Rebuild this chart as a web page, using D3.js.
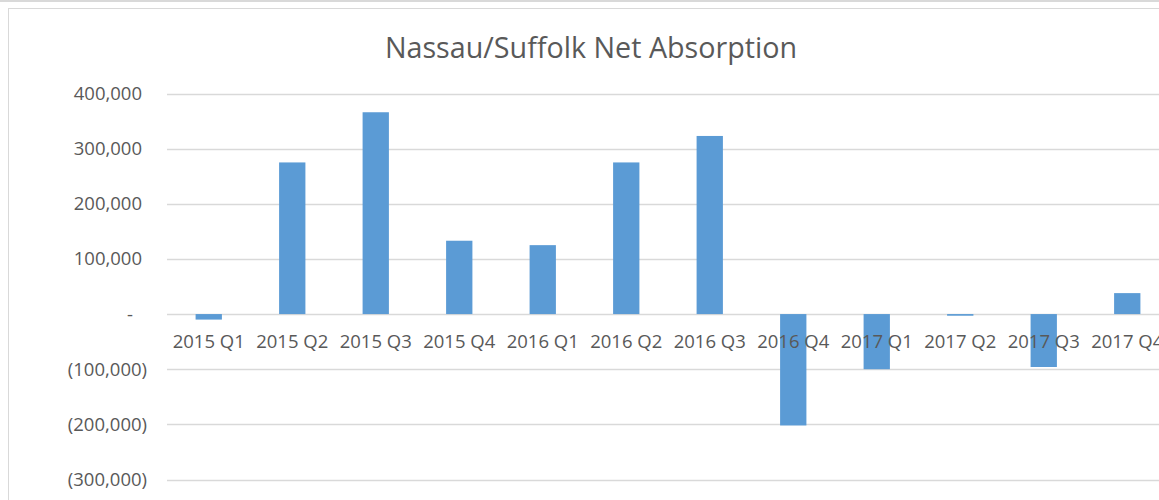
<!DOCTYPE html>
<html>
<head>
<meta charset="utf-8">
<script src="https://cdn.jsdelivr.net/npm/d3@7"></script>
<style>
  body { margin: 0; background: #fff; }
  text { font-family: "Open Sans", "Liberation Sans", sans-serif; fill: #595959; }
</style>
</head>
<body>
<div id="chart"></div>
<script>
// data
const quarters = ["2015 Q1", "2015 Q2", "2015 Q3", "2015 Q4", "2016 Q1", "2016 Q2",
                  "2016 Q3", "2016 Q4", "2017 Q1", "2017 Q2", "2017 Q3", "2017 Q4"];
const netAbsorption = [-10000, 275000, 366000, 133000, 125000, 275000,
                       323000, -202000, -100000, -3000, -96000, 38000];
const yTicks = [-300000, -200000, -100000, 0, 100000, 200000, 300000, 400000];
const chartTitle = "Nassau/Suffolk Net Absorption";

const width = 1159, height = 500;
const dataset = quarters.map((q, i) => ({ name: q, value: netAbsorption[i] }));

const svg = d3.select("#chart").append("svg")
    .attr("width", width)
    .attr("height", height);

// outer frames
svg.append("line")
    .attr("x1", 0).attr("x2", width)
    .attr("y1", 1).attr("y2", 1)
    .attr("stroke", "#d9d9d9").attr("stroke-width", 2);
svg.append("rect")
    .attr("x", 8.5).attr("y", 8.5)
    .attr("width", 1300).attr("height", 700)
    .attr("fill", "none")
    .attr("stroke", "#d9d9d9");

// scales
const xScale = d3.scaleBand()
    .domain(quarters)
    .range([167, 1169])
    .paddingInner(0.685)
    .paddingOuter(0.3425);

const yScale = d3.scaleLinear()
    .domain([-300000, 400000])
    .range([479.5, 93.5]);

// accounting style tick labels
const fmt = d3.format(",");
function tickLabel(v) {
    if (v === 0) return "-";
    if (v < 0) return "(" + fmt(-v) + ")";
    return fmt(v);
}

// gridlines
svg.append("g")
    .selectAll("line")
    .data(yTicks)
    .enter()
    .append("line")
    .attr("x1", 167)
    .attr("x2", width)
    .attr("y1", d => Math.round(yScale(d)) + 0.5)
    .attr("y2", d => Math.round(yScale(d)) + 0.5)
    .attr("stroke", "#d9d9d9")
    .attr("stroke-width", 1.3);

// y labels
svg.append("g")
    .selectAll("text")
    .data(yTicks)
    .enter()
    .append("text")
    .attr("x", d => d === 0 ? 130 : (d < 0 ? 147 : 142))
    .attr("y", d => yScale(d))
    .attr("dy", "0.35em")
    .attr("text-anchor", d => d === 0 ? "middle" : "end")
    .style("font-size", "18.5px")
    .text(tickLabel);

// bars
svg.append("g")
    .selectAll("rect")
    .data(dataset)
    .enter()
    .append("rect")
    .attr("x", d => xScale(d.name))
    .attr("y", d => yScale(Math.max(0, d.value)))
    .attr("width", xScale.bandwidth())
    .attr("height", d => Math.abs(yScale(d.value) - yScale(0)))
    .attr("fill", "#5b9bd5");

// category labels (next to axis)
svg.append("g")
    .selectAll("text")
    .data(quarters)
    .enter()
    .append("text")
    .attr("x", d => xScale(d) + xScale.bandwidth() / 2)
    .attr("y", 348)
    .attr("text-anchor", "middle")
    .style("font-size", "18.5px")
    .text(d => d);

// title
svg.append("text")
    .attr("x", 591)
    .attr("y", 58)
    .attr("text-anchor", "middle")
    .style("font-size", "28.7px")
    .text(chartTitle);
</script>
</body>
</html>
